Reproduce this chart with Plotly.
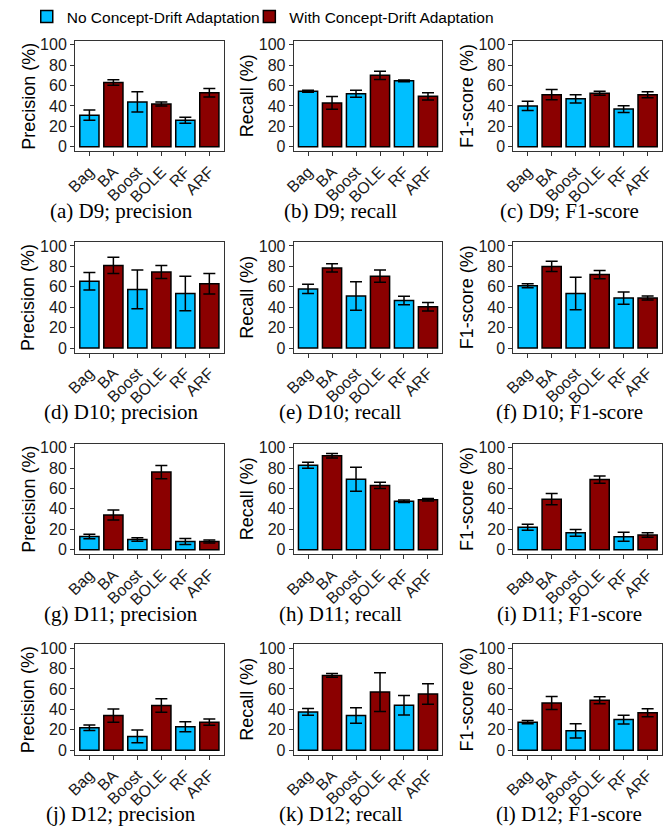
import plotly.graph_objects as go

categories = ["Bag", "BA", "Boost", "BOLE", "RF", "ARF"]
no_cda = ["Bag", "Boost", "RF"]
with_cda = ["BA", "BOLE", "ARF"]
datasets = ["D9", "D10", "D11", "D12"]
metrics = ["precision", "recall", "F1-score"]
y_titles = ["Precision (%)", "Recall (%)", "F1-score (%)"]
y_ticks = [0, 20, 40, 60, 80, 100]

# values in category order: Bag, BA, Boost, BOLE, RF, ARF
d9_precision = [31, 63, 44, 42, 26, 53]
d9_precision_err = [5, 2.6, 10, 2, 3, 4.2]
d9_recall = [54.5, 43, 52, 70, 64.6, 49.4]
d9_recall_err = [1, 6.3, 3.5, 4, 0.8, 3.5]
d9_f1 = [40, 51, 47, 52.5, 37, 51]
d9_f1_err = [4.5, 5, 4, 2, 3.3, 3]

d10_precision = [65.5, 81, 57.5, 74.5, 53.5, 63]
d10_precision_err = [8.5, 8, 19, 6.4, 17, 10]
d10_recall = [58, 78.5, 51, 70.5, 46.6, 40.5]
d10_recall_err = [4.5, 4, 14, 6, 4.2, 4.2]
d10_f1 = [61, 80, 53.5, 72, 49, 49]
d10_f1_err = [2, 5, 16, 4, 6, 2]

d11_precision = [13, 34, 10, 76, 8, 8]
d11_precision_err = [2.2, 5, 1.8, 6.5, 3, 1.5]
d11_recall = [82.7, 92, 69, 63, 47.5, 49]
d11_recall_err = [3, 2.3, 11.7, 3, 1.3, 1.2]
d11_f1 = [22, 49.5, 16.5, 68.7, 12.7, 14.3]
d11_f1_err = [3, 5.5, 3.3, 3.6, 4.5, 2.2]

d12_precision = [22, 34, 13.5, 43.8, 23, 27.5]
d12_precision_err = [2.6, 6.5, 6.2, 6.5, 5, 3]
d12_recall = [37.5, 73.3, 34, 57, 44, 55]
d12_recall_err = [3.3, 1.8, 7.6, 19, 9.6, 10]
d12_f1 = [27.5, 46.3, 19, 49, 30, 36.8]
d12_f1_err = [1.6, 6.4, 7, 3.4, 4.3, 3.9]

panels = [
    [(d9_precision, d9_precision_err), (d9_recall, d9_recall_err), (d9_f1, d9_f1_err)],
    [(d10_precision, d10_precision_err), (d10_recall, d10_recall_err), (d10_f1, d10_f1_err)],
    [(d11_precision, d11_precision_err), (d11_recall, d11_recall_err), (d11_f1, d11_f1_err)],
    [(d12_precision, d12_precision_err), (d12_recall, d12_recall_err), (d12_f1, d12_f1_err)],
]

W, H = 663, 835
BLUE = "#00BFFF"
RED = "#8B0000"
col_left = [66, 288, 511]
col_w = 151
row_top = [36, 239.5, 443.3, 646]
row_h = 112
cap_x = [113, 336, 568]
ytitle_x = [19, 241, 464]
letters = "abcdefghijkl"

fig = go.Figure()
annotations = []
layout = {}
k = 0
for r in range(4):
    for c in range(3):
        k += 1
        vals, errs = panels[r][c]
        xa = "x" if k == 1 else f"x{k}"
        ya = "y" if k == 1 else f"y{k}"
        for group, color, name, leg in [(no_cda, BLUE, "No Concept-Drift Adaptation", "legend"),
                                        (with_cda, RED, "With Concept-Drift Adaptation", "legend2")]:
            idx = [categories.index(g) for g in group]
            fig.add_trace(go.Bar(
                x=group, y=[vals[i] for i in idx],
                error_y=dict(type="data", array=[errs[i] for i in idx],
                             color="black", thickness=1.5, width=6),
                marker=dict(color=color, line=dict(color="black", width=1.5)),
                width=0.8, name=name, legendgroup=name, showlegend=(k == 1),
                legend=leg, xaxis=xa, yaxis=ya,
            ))
        x0 = col_left[c] / W
        x1 = (col_left[c] + col_w) / W
        y1 = 1 - row_top[r] / H
        y0 = 1 - (row_top[r] + row_h) / H
        xkey = "xaxis" if k == 1 else f"xaxis{k}"
        ykey = "yaxis" if k == 1 else f"yaxis{k}"
        layout[xkey] = dict(
            domain=[x0, x1], anchor=ya, type="category",
            categoryorder="array", categoryarray=categories,
            range=[-0.6, 5.6], showline=True, mirror=True, linecolor="#333333",
            linewidth=1, ticks="outside", ticklen=4, tickcolor="#333333",
            tickangle=-45, tickfont=dict(family="Liberation Sans", size=16, color="#1a1a1a"),
            showgrid=False, zeroline=False, fixedrange=True,
        )
        layout[ykey] = dict(
            domain=[y0, y1], anchor=xa, range=[-4.5, 104],
            tickvals=y_ticks, showline=True, mirror=True, linecolor="#333333",
            linewidth=1, ticks="outside", ticklen=4, tickcolor="#333333",
            tickfont=dict(family="Liberation Sans", size=16, color="#1a1a1a"),
            showgrid=False, zeroline=False, fixedrange=True,
        )
        annotations.append(dict(
            x=cap_x[c] / W, y=1 - (row_top[r] + row_h + 60) / H,
            xref="paper", yref="paper", xanchor="center", yanchor="middle",
            text=f"({letters[k-1]}) {datasets[r]}; {metrics[c]}", showarrow=False,
            font=dict(family="Liberation Serif", size=21, color="black"),
        ))
        annotations.append(dict(
            x=ytitle_x[c] / W, y=1 - (row_top[r] + row_h / 2) / H,
            xref="paper", yref="paper", xanchor="center", yanchor="middle",
            text=y_titles[c], textangle=-90, showarrow=False,
            font=dict(family="Liberation Sans", size=18, color="black"),
        ))

legend_font = dict(family="Liberation Sans", size=15.5, color="black")
fig.update_layout(
    **layout,
    width=W, height=H,
    margin=dict(l=0, r=0, t=0, b=0),
    paper_bgcolor="white", plot_bgcolor="white",
    barmode="overlay",
    annotations=annotations,
    showlegend=True,
    legend=dict(orientation="h", x=17 / W, y=1.006, xanchor="left", yanchor="top",
                font=legend_font, bgcolor="rgba(0,0,0,0)"),
    legend2=dict(orientation="h", x=243 / W, y=1.006, xanchor="left", yanchor="top",
                 font=legend_font, bgcolor="rgba(0,0,0,0)"),
)
fig.write_html("out.html")
